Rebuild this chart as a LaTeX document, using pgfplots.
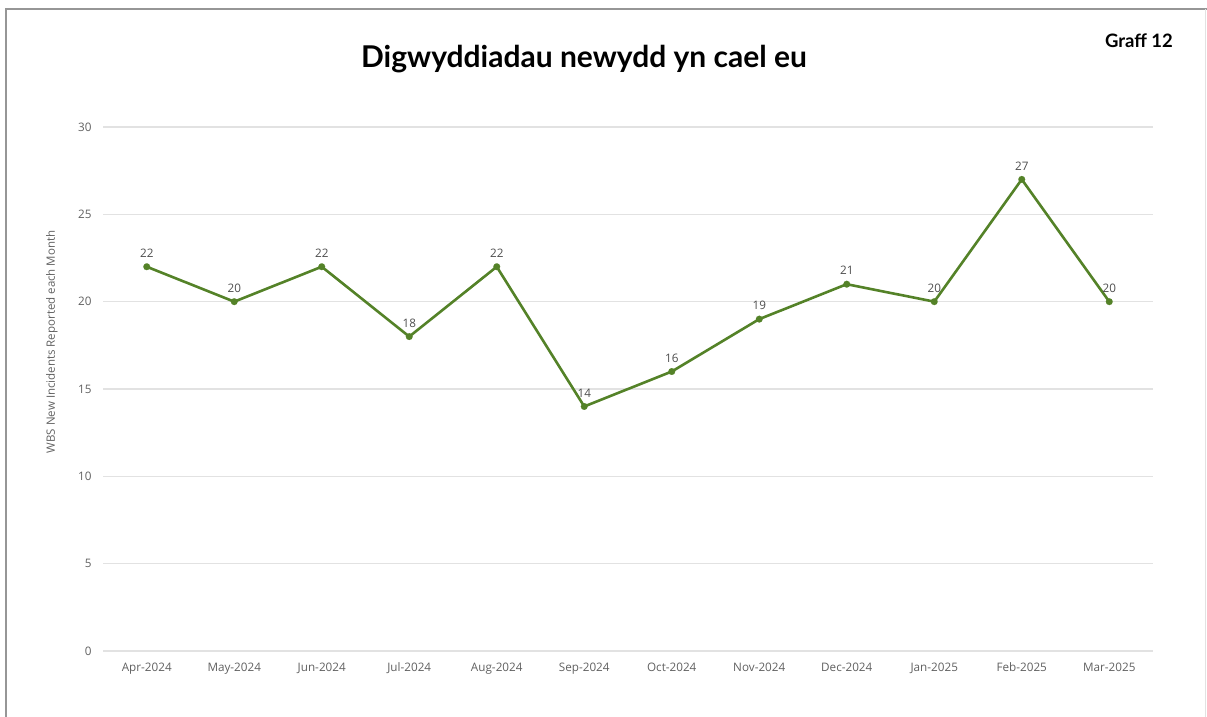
\documentclass[border=0pt]{standalone}
\usepackage{fontspec}
\setmainfont{Open Sans}
\newfontfamily\titlefont{Lato}
\usepackage{pgfplots}
\pgfplotsset{compat=1.18}
\definecolor{lgreen}{RGB}{84,130,40}
\definecolor{tickgray}{RGB}{96,96,96}
\definecolor{gridgray}{RGB}{226,226,226}
\definecolor{framegray}{RGB}{150,150,150}
\begin{document}
\begin{tikzpicture}[x=1pt,y=1pt]
\useasboundingbox (0,0) rectangle (1207,717);
\draw[framegray,line width=2pt] (6,0) -- (6,708) -- (1207,708);
\draw[gridgray,line width=1pt] (1205.5,0) -- (1205.5,708);
\node[font=\titlefont\bfseries\fontsize{30}{33}\selectfont] at (584,658) {Digwyddiadau newydd yn cael eu};
\node[font=\titlefont\bfseries\fontsize{18.5}{20}\selectfont] at (1139,676) {Graff 12};
\begin{axis}[
  at={(103pt,66pt)}, anchor=south west,
  width=1050pt, height=524pt, scale only axis,
  xmin=-0.5, xmax=11.5, ymin=0, ymax=30,
  axis line style={draw=none},
  ytick={0,5,...,30},
  xtick={0,...,11},
  xticklabels={Apr-2024,May-2024,Jun-2024,Jul-2024,Aug-2024,Sep-2024,Oct-2024,Nov-2024,Dec-2024,Jan-2025,Feb-2025,Mar-2025},
  major tick length=0pt,
  ymajorgrids,
  grid style={gridgray,line width=1.3pt},
  tick label style={font=\fontsize{11.7}{13}\selectfont, text=tickgray},
  /pgf/number format/assume math mode=true,
  yticklabel style={xshift=-8pt},
  xticklabel style={yshift=-8pt},
  ylabel={WBS New Incidents Reported each Month},
  ylabel style={font=\fontsize{11.5}{13}\selectfont, text=tickgray, anchor=center, at={(axis description cs:-0.0486,0.59)}},
  clip=false,
  nodes near coords,
  every node near coord/.append style={font=\fontsize{11.7}{13}\selectfont, text=tickgray!80!black, anchor=south, yshift=6pt},
]
\addplot[lgreen, line width=2.6pt, mark=*, mark size=3.4pt, mark options={fill=lgreen, draw=lgreen, line width=0.1pt}]
coordinates {(0,22) (1,20) (2,22) (3,18) (4,22) (5,14) (6,16) (7,19) (8,21) (9,20) (10,27) (11,20)};
\end{axis}
\end{tikzpicture}
\end{document}
